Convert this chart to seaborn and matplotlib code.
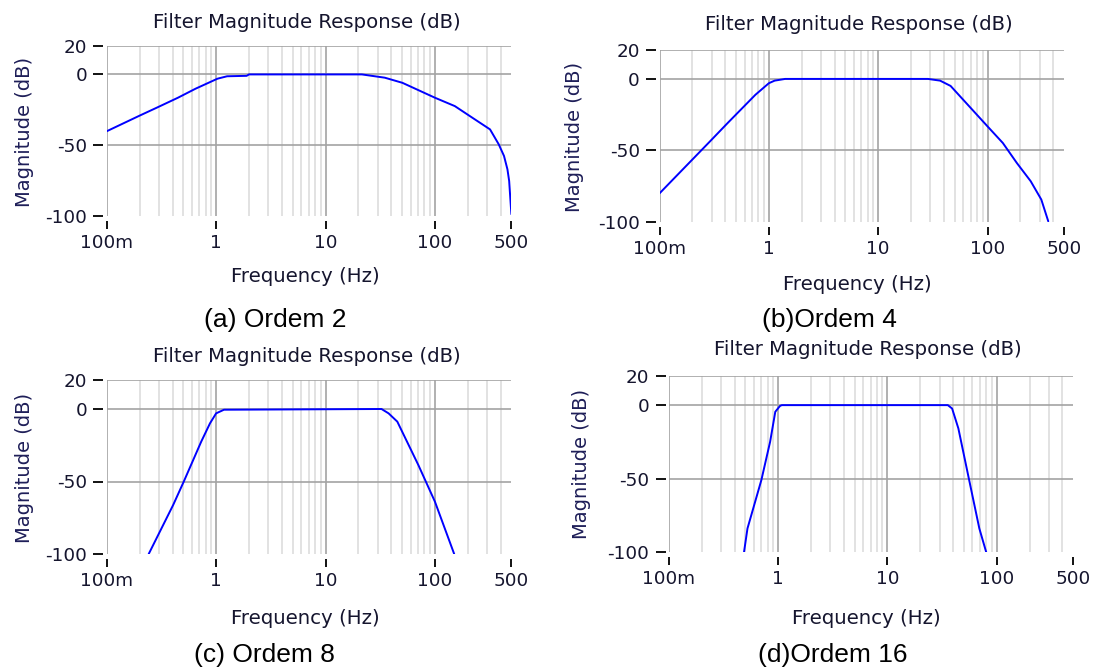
import numpy as np
import matplotlib
matplotlib.use("Agg")
import matplotlib.pyplot as plt
import seaborn as sns

# ---- data ----
freq_a = [0.1, 0.2, 0.287, 0.448, 0.647, 1.03, 1.26, 1.9, 2.0, 21.5, 34.8, 50.4, 100, 152, 220, 319, 383, 428, 460, 477, 494, 500]
mag_a = [-40, -29.0, -23.4, -16.4, -10.1, -3.0, -1.3, -1.0, 0, 0, -2.3, -5.9, -16.4, -22.3, -30.5, -38.7, -49.2, -57.4, -66.8, -75, -92.6, -98.4]

freq_b = [0.1, 0.29, 0.419, 0.753, 1.0, 1.13, 1.41, 28.5, 36.8, 45.9, 100, 138, 185, 248, 310, 359]
mag_b = [-80.0, -43.6, -30.9, -11.1, -3.0, -1.2, 0, 0, -1.2, -4.9, -33.2, -44.8, -58.7, -71.5, -84.3, -99.5]

freq_c = [0.242, 0.405, 0.506, 0.731, 0.879, 1.0, 1.18, 32.5, 37.7, 45.3, 70.5, 100, 150]
mag_c = [-100, -66.2, -50.1, -22.5, -9.9, -3.0, -0.5, 0, -3.0, -8.7, -38.6, -63.9, -100]

freq_d = [0.486, 0.523, 0.701, 0.843, 0.94, 1.04, 1.08, 35.7, 39.1, 44.6, 55.6, 69.4, 80.3]
mag_d = [-100, -83.8, -50.9, -24.9, -4.5, -0.5, 0, 0, -2.3, -15.8, -49.8, -83.8, -100]

xtick_vals = [0.1, 1, 10, 100, 500]
xtick_labels = ["100m", "1", "10", "100", "500"]
ytick_vals = [-100, -50, 0, 20]
ytick_labels = ["-100", "-50", "0", "20"]
captions = ["(a) Ordem 2", "(b)Ordem 4", "(c) Ordem 8", "(d)Ordem 16"]
title_text = "Filter Magnitude Response (dB)"
xlabel_text = "Frequency (Hz)"
ylabel_text = "Magnitude (dB)"

sns.set_style("white")
plt.rcParams["font.family"] = ["DejaVu Sans"]

W, H = 1094, 670
fig = plt.figure(figsize=(W / 100, H / 100), dpi=100)

def px(x, y):
    return x / W, 1 - y / H

# axes rectangles in pixels: left, right, top, bottom
rects = [
    (106.7, 511.4, 46.0, 216.5),
    (659.5, 1064.0, 50.3, 222.0),
    (106.7, 511.4, 380.0, 554.0),
    (669.0, 1073.0, 375.7, 552.3),
]
titles_pos = [(307, 22.7), (859, 25), (307, 356.7), (868, 350)]
xlabel_pos = [(305, 276.7), (857, 285), (305, 619), (866, 618.3)]
ylabel_pos = [(24.4, 131.7), (575, 136.7), (24.4, 467.5), (582, 464.2)]
caption_pos = [(275.6, 320), (829.6, 320), (264.3, 655), (833, 655)]

datasets = [(freq_a, mag_a), (freq_b, mag_b), (freq_c, mag_c), (freq_d, mag_d)]

txt_col = "#15152e"
major_col = "#a3a3a3"
minor_col = "#dadada"

for i, (rect, (fx, my)) in enumerate(zip(rects, datasets)):
    l, r, t, b = rect
    ax = fig.add_axes([l / W, 1 - b / H, (r - l) / W, (b - t) / H])
    ax.set_xscale("log")
    ax.set_xlim(0.1, 500)
    ax.set_ylim(-100, 20)
    # minor grid lines
    for d in [0.1, 1, 10, 100]:
        for k in range(2, 10):
            v = d * k
            if v < 500:
                ax.axvline(v, color=minor_col, lw=1.1, zorder=0)
    for v in [0.1, 1, 10, 100]:
        ax.axvline(v, color=major_col, lw=1.2, zorder=1)
    for v in [20, 0, -50]:
        ax.axhline(v, color=major_col, lw=1.2, zorder=1)

    sns.lineplot(x=fx, y=my, ax=ax, color="#0000ff", lw=1.4, zorder=3)

    for s in ax.spines.values():
        s.set_visible(False)
    ax.spines["bottom"].set_position(("outward", 3.6))
    ax.spines["left"].set_position(("outward", 2.4))
    ax.set_xticks(xtick_vals)
    ax.set_xticklabels(xtick_labels)
    ax.set_yticks(ytick_vals)
    ax.set_yticklabels(ytick_labels)
    ax.minorticks_off()
    ax.tick_params(axis="x", which="major", direction="out", length=5.8, width=1.4,
                   color="#111111", pad=3.5, labelsize=13.2, labelcolor=txt_col, bottom=True)
    ax.tick_params(axis="y", which="major", direction="out", length=7.2, width=1.4,
                   color="#111111", pad=4.5, labelsize=13.2, labelcolor=txt_col, left=True)
    ax.set_xlabel("")
    ax.set_ylabel("")
    ax.set_facecolor("white")

    fig.text(*px(*titles_pos[i]), title_text, ha="center", va="center",
             fontsize=14.2, color=txt_col)
    fig.text(*px(*xlabel_pos[i]), xlabel_text, ha="center", va="center",
             fontsize=14.2, color=txt_col)
    fig.text(*px(*ylabel_pos[i]), ylabel_text, ha="center", va="center",
             rotation=90, fontsize=14.0, color="#1e1e58")
    fig.text(*px(*caption_pos[i]), captions[i], ha="center", va="center",
             fontsize=19, color="black", family=["Liberation Sans"])

fig.savefig("out.png", dpi=100, facecolor="white")
